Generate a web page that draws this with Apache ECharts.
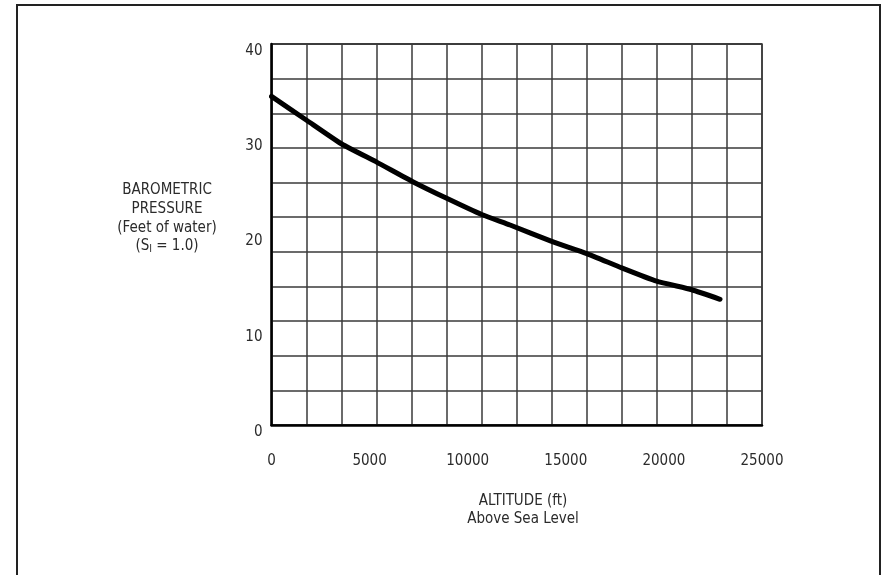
<!DOCTYPE html>
<html>
<head>
<meta charset="utf-8">
<script src="https://cdn.jsdelivr.net/npm/echarts@6/dist/echarts.min.js"></script>
<style>
  html, body { margin: 0; padding: 0; background: #fff; }
  #chart { width: 886px; height: 575px; }
</style>
</head>
<body>
<div id="chart"></div>
<script>
  // altitude in feet, pressure in feet of water
  const altitudeFt = [0, 1790, 3580, 5360, 7150, 8930, 10710, 12160, 14250, 16070, 17850, 19630, 21420, 22860];
  const pressureFt = [34.5, 32.0, 29.5, 27.6, 25.6, 23.8, 22.1, 21.0, 19.3, 18.0, 16.5, 15.1, 14.2, 13.2];

  const xMax = 25000;
  const yMax = 40;
  const xGridCells = 14; // the printed grid does not line up with the labels
  const yGridCells = 11;
  const xLabelStep = 5000;
  const yLabelStep = 10;

  const FONT = "'Liberation Sans Narrow', 'DejaVu Sans Condensed', sans-serif";
  const ink = "#2b2b2b";
  const gridInk = "#3a3a3a";

  const chart = echarts.init(document.getElementById("chart"), null, { renderer: "canvas" });

  const points = altitudeFt.map((a, i) => [a, pressureFt[i]]);
  const plain = (v) => String(Math.round(v));

  chart.setOption({
    backgroundColor: "#fff",
    animation: false,
    grid: {
      left: 271.5, top: 44, width: 490.5, height: 381,
      show: true, borderColor: gridInk, borderWidth: 1.5, containLabel: false,
    },
    xAxis: [
      {
        type: "value", min: 0, max: xMax, interval: xMax / xGridCells,
        axisLine: { show: true, lineStyle: { color: "#000", width: 2.5 } },
        axisTick: { show: false },
        axisLabel: { show: false },
        splitLine: { show: true, lineStyle: { color: gridInk, width: 1.5 } },
      },
      {
        type: "value", min: 0, max: xMax, interval: xLabelStep, position: "bottom",
        axisLine: { show: false }, axisTick: { show: false },
        splitLine: { show: false },
        axisLabel: {
          show: true, margin: 29, fontFamily: FONT, fontSize: 15, color: ink,
          showMaxLabel: true, formatter: plain,
        },
      },
    ],
    yAxis: [
      {
        type: "value", min: 0, max: yMax, interval: yMax / yGridCells,
        axisLine: { show: true, lineStyle: { color: "#000", width: 2.5 } },
        axisTick: { show: false },
        axisLabel: { show: false },
        splitLine: { show: true, lineStyle: { color: gridInk, width: 1.5 } },
      },
      {
        type: "value", min: 0, max: yMax, interval: yLabelStep, position: "left",
        axisLine: { show: false }, axisTick: { show: false },
        splitLine: { show: false },
        axisLabel: {
          show: true, margin: 9, fontFamily: FONT, fontSize: 15, color: ink,
          verticalAlign: "top", lineHeight: 14, showMaxLabel: true, formatter: plain,
        },
      },
    ],
    series: [
      {
        type: "line",
        xAxisIndex: 0, yAxisIndex: 0,
        data: points,
        smooth: 0.15,
        showSymbol: false,
        lineStyle: { color: "#000", width: 5, cap: "round", join: "round" },
        z: 5,
      },
    ],
    graphic: [
      {
        type: "rect", silent: true,
        shape: { x: 17, y: 5, width: 863, height: 620 },
        style: { fill: null, stroke: "#222", lineWidth: 2 },
      },
      {
        type: "text", silent: true,
        style: {
          x: 167, y: 181,
          text: "BAROMETRIC\nPRESSURE\n(Feet of water)\n(S{s|l} = 1.0)",
          align: "center", verticalAlign: "top",
          font: "15px " + FONT, fill: ink, lineHeight: 18.7,
          rich: { s: { fontFamily: FONT, fontSize: 11, padding: [6, 0, 0, 0], fill: ink } },
        },
      },
      {
        type: "text", silent: true,
        style: {
          x: 523, y: 492,
          text: "ALTITUDE (ft)\nAbove Sea Level",
          align: "center", verticalAlign: "top",
          font: "15px " + FONT, fill: ink, lineHeight: 18,
        },
      },
    ],
  });

  window.addEventListener("resize", () => chart.resize());
</script>
</body>
</html>
